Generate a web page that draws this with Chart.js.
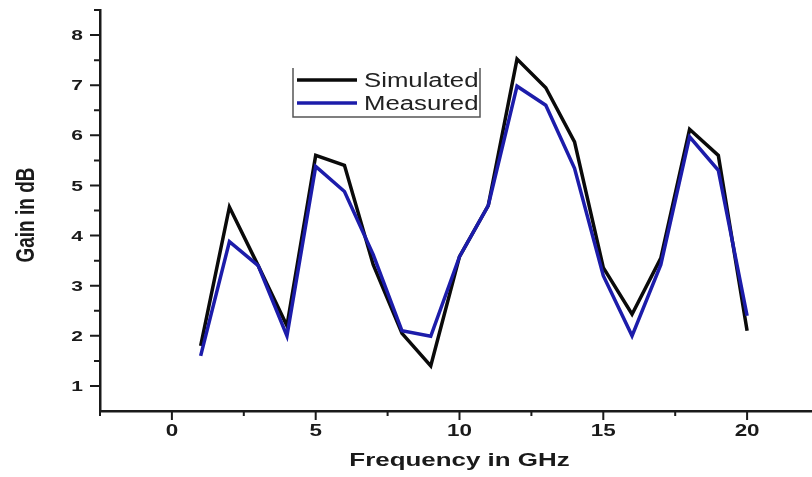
<!DOCTYPE html>
<html>
<head>
<meta charset="utf-8">
<script src="https://cdn.jsdelivr.net/npm/chart.js@4"></script>
<style>
  html, body { margin: 0; padding: 0; background: #fff; overflow: hidden; }
  #wrap { width: 820px; height: 477px; }
</style>
</head>
<body>
<div id="wrap"><canvas id="gain" width="820" height="477"></canvas></div>
<script>
// values
const freqGHz   = [1, 2, 3, 4, 5, 6, 7, 8, 9, 10, 11, 12, 13, 14, 15, 16, 17, 18, 19, 20];
const simulated = [1.8, 4.57, 3.4, 2.2, 5.6, 5.4, 3.42, 2.05, 1.4, 3.58, 4.6, 7.52, 6.95, 5.87, 3.36, 2.43, 3.55, 6.12, 5.6, 2.1];
const measured  = [1.6, 3.88, 3.4, 2.0, 5.38, 4.88, 3.62, 2.1, 1.99, 3.58, 4.6, 6.98, 6.6, 5.34, 3.2, 2.0, 3.42, 5.97, 5.3, 2.4];
const xMajor = [0, 5, 10, 15, 20];
const xMinor = [-2.5, 2.5, 7.5, 12.5, 17.5, 22.5];
const yMajor = [1, 2, 3, 4, 5, 6, 7, 8];
const yMinor = [1.5, 2.5, 3.5, 4.5, 5.5, 6.5, 7.5, 8.5];

const FONT = '"Liberation Sans", Arial, sans-serif';
const SX = 1.4; // the original picture is stretched sideways

function toPoints(ys) {
  return freqGHz.map((f, i) => ({ x: f, y: ys[i] }));
}

// text drawn with a sideways stretch, like the reference
function stretchedText(ctx, txt, x, y, font, align, baseline, sx) {
  ctx.save();
  ctx.translate(x, y);
  ctx.scale(sx, 1);
  ctx.font = font;
  ctx.textAlign = align;
  ctx.textBaseline = baseline;
  ctx.fillText(txt, 0, 0);
  ctx.restore();
}

const axesPlugin = {
  id: 'originAxes',
  afterDraw(chart) {
    const ctx = chart.ctx;
    const xs = chart.scales.x, ys = chart.scales.y;
    const area = chart.chartArea;
    ctx.save();
    ctx.strokeStyle = '#1a1a1a';
    ctx.fillStyle = '#1a1a1a';
    ctx.lineWidth = 2;
    ctx.beginPath();
    yMajor.forEach(v => { const p = ys.getPixelForValue(v); ctx.moveTo(area.left, p); ctx.lineTo(area.left - 10, p); });
    yMinor.forEach(v => { const p = ys.getPixelForValue(v); ctx.moveTo(area.left, p); ctx.lineTo(area.left - 6, p); });
    xMajor.forEach(v => { const p = xs.getPixelForValue(v); ctx.moveTo(p, area.bottom); ctx.lineTo(p, area.bottom + 9); });
    xMinor.forEach(v => { const p = xs.getPixelForValue(v); ctx.moveTo(p, area.bottom); ctx.lineTo(p, area.bottom + 5); });
    ctx.stroke();

    yMajor.forEach(v => {
      stretchedText(ctx, String(v), area.left - 17, ys.getPixelForValue(v) + 1, 'bold 15px ' + FONT, 'right', 'middle', SX);
    });
    xMajor.forEach(v => {
      stretchedText(ctx, String(v), xs.getPixelForValue(v), area.bottom + 21, 'bold 16px ' + FONT, 'center', 'middle', SX);
    });

    // axis titles
    stretchedText(ctx, 'Frequency in GHz', xs.getPixelForValue(10), 466, 'bold 18px ' + FONT, 'center', 'alphabetic', 1.44);
    ctx.save();
    ctx.translate(34, 215);
    ctx.rotate(-Math.PI / 2);
    ctx.scale(1, 1.38);
    ctx.font = 'bold 19px ' + FONT;
    ctx.textAlign = 'center';
    ctx.textBaseline = 'alphabetic';
    ctx.fillText('Gain in dB', 0, 0);
    ctx.restore();
    ctx.restore();
  }
};

const legendPlugin = {
  id: 'boxLegend',
  afterDraw(chart) {
    const ctx = chart.ctx;
    const L = 293, R = 480, T = 68, B = 117;
    ctx.save();
    ctx.strokeStyle = '#555';
    ctx.lineWidth = 1.5;
    ctx.beginPath();
    ctx.moveTo(L, T); ctx.lineTo(L, B); ctx.lineTo(R, B); ctx.lineTo(R, T);
    ctx.stroke();
    chart.data.datasets.slice().reverse().forEach((ds, i) => {
      const y = i === 0 ? 80 : 103;
      ctx.strokeStyle = ds.borderColor;
      ctx.lineWidth = 3.5;
      ctx.beginPath();
      ctx.moveTo(297, y); ctx.lineTo(357, y);
      ctx.stroke();
      ctx.fillStyle = '#222';
      ctx.strokeStyle = '#222';
      ctx.lineWidth = 0.4;
      stretchedText(ctx, ds.label, 364, y + 7, '19.5px ' + FONT, 'left', 'alphabetic', 1.32);
    });
    ctx.restore();
  }
};

new Chart(document.getElementById('gain'), {
  type: 'line',
  data: {
    datasets: [
      { label: 'Measured', data: toPoints(measured), borderColor: '#1c1caa', borderWidth: 3.5, pointRadius: 0, tension: 0, order: 1 },
      { label: 'Simulated', data: toPoints(simulated), borderColor: '#0a0a0a', borderWidth: 3.5, pointRadius: 0, tension: 0, order: 2 }
    ]
  },
  options: {
    responsive: false,
    devicePixelRatio: 1,
    animation: false,
    layout: { padding: { top: 10, right: 1, left: 0, bottom: 0 } },
    plugins: { legend: { display: false }, tooltip: { enabled: false } },
    scales: {
      x: {
        type: 'linear', min: -2.5, max: 22.5,
        grid: { display: false },
        ticks: { display: false },
        border: { display: true, color: '#1a1a1a', width: 2.5 },
        afterFit: s => { s.height = 66; }
      },
      y: {
        min: 0.5, max: 8.5,
        grid: { display: false },
        ticks: { display: false },
        border: { display: true, color: '#1a1a1a', width: 2.5 },
        afterFit: s => { s.width = 100; }
      }
    }
  },
  plugins: [axesPlugin, legendPlugin]
});
</script>
</body>
</html>
